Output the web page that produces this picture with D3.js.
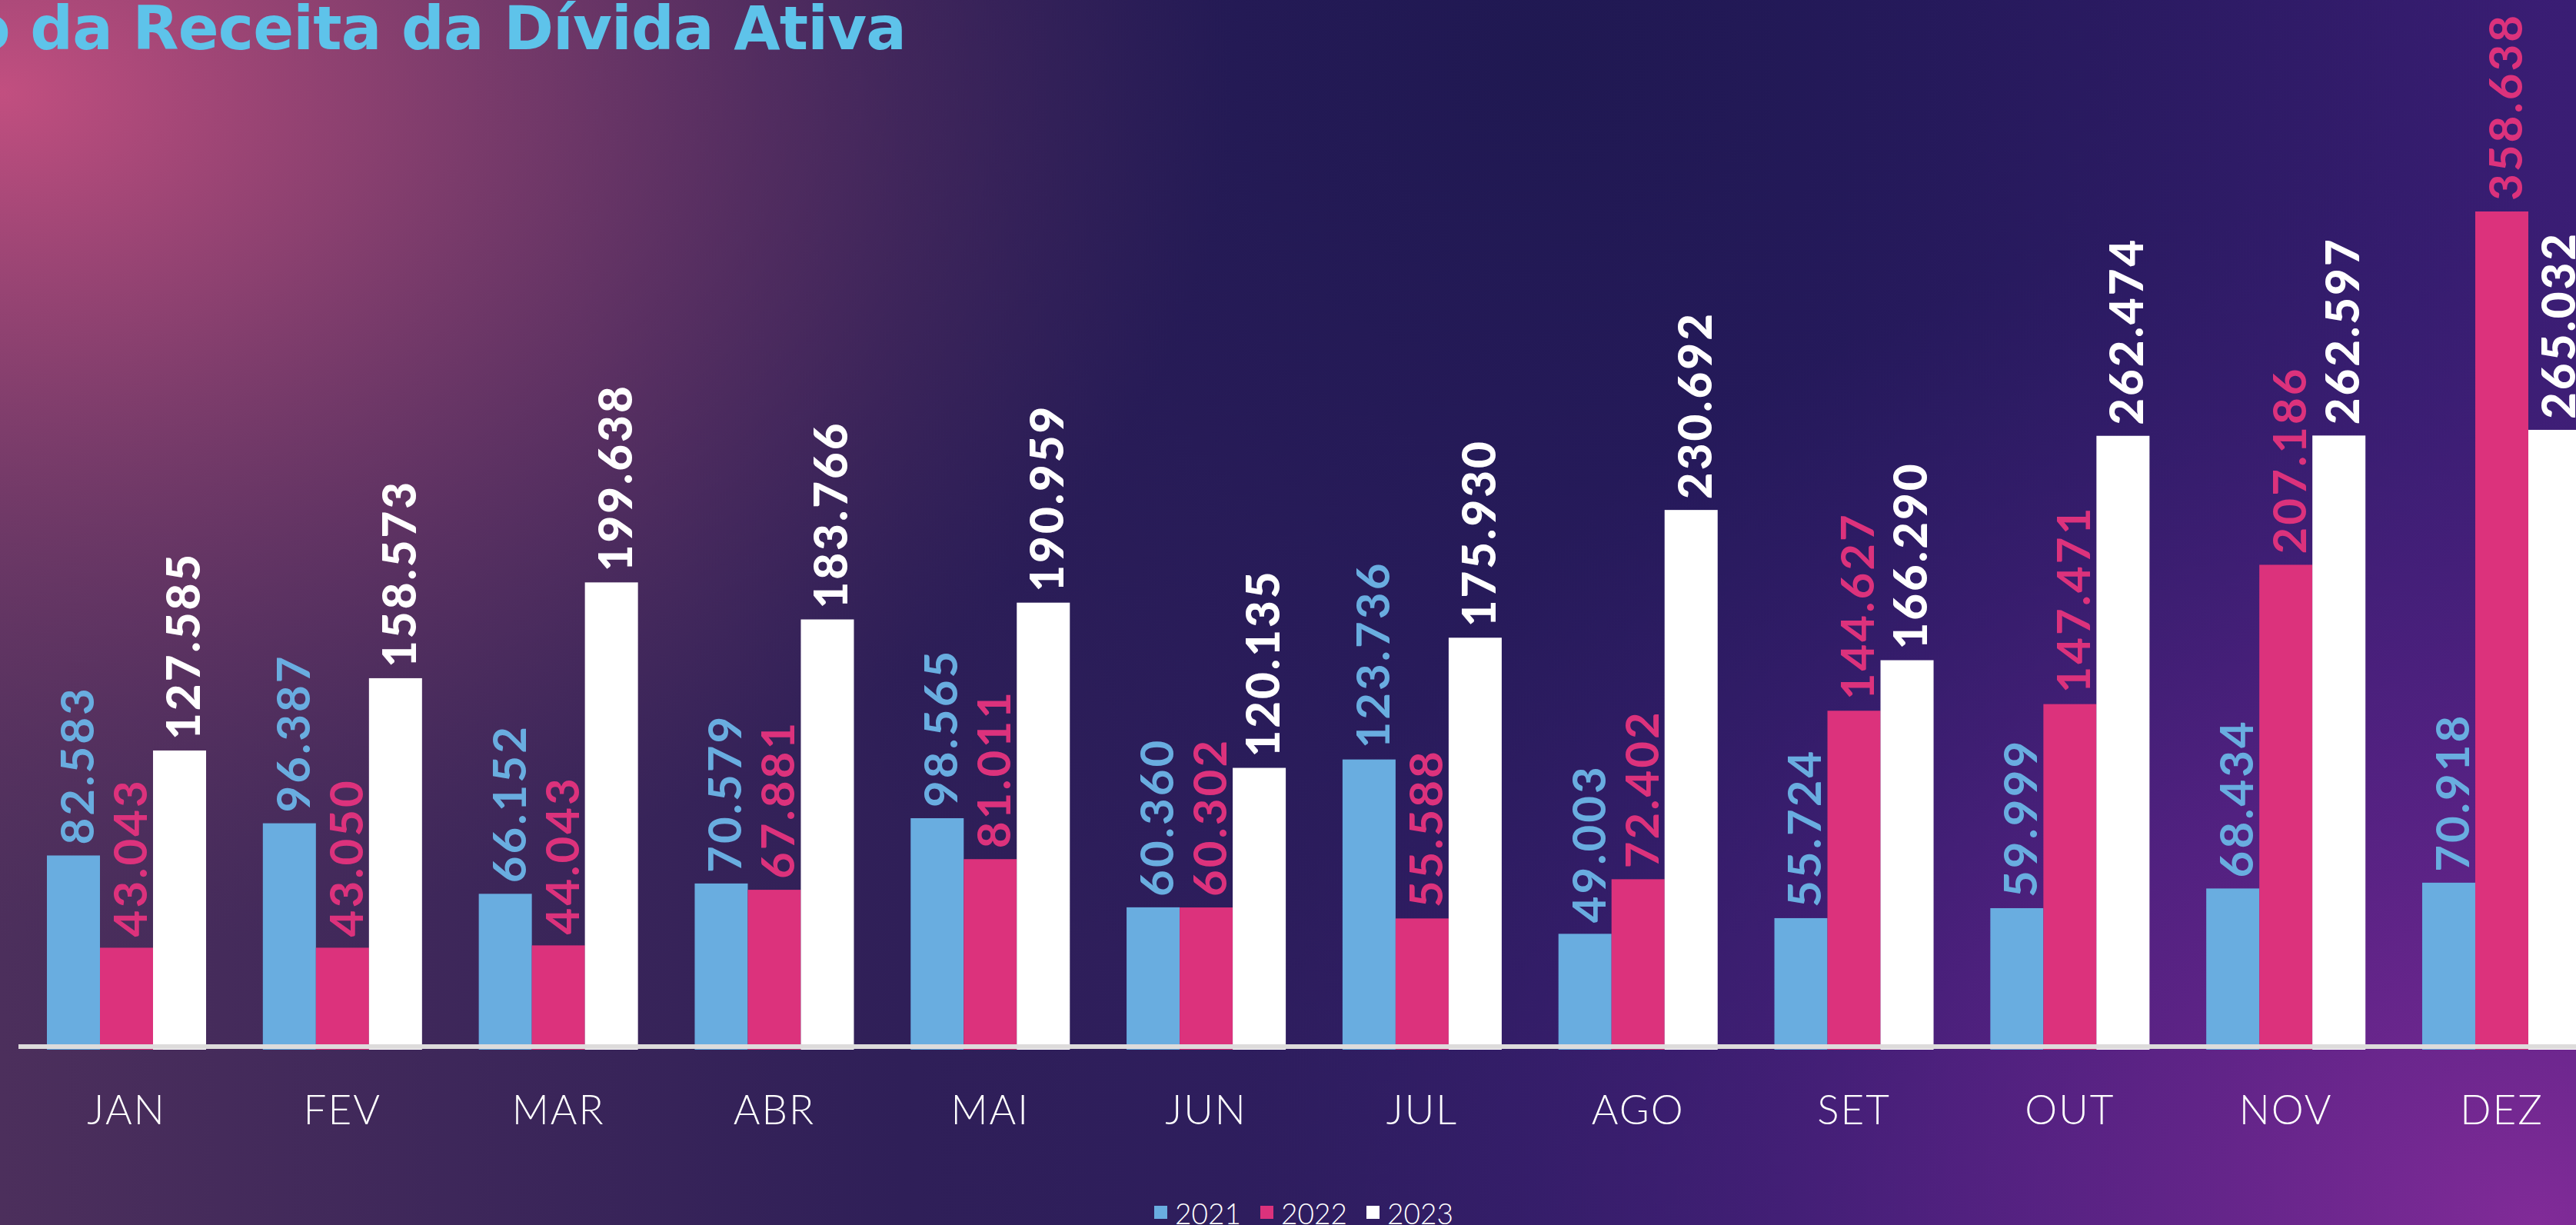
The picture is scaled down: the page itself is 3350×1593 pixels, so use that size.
<!DOCTYPE html>
<html>
<head>
<meta charset="utf-8">
<script src="https://cdn.jsdelivr.net/npm/d3@7"></script>
<style>
  html, body { margin: 0; padding: 0; background: #2c1d5e; overflow: hidden; }
  svg { display: block; }
</style>
</head>
<body>
<svg id="chart" width="3350" height="1593"></svg>
<script>
'use strict';

// data (values in R$ mil)
const months = ['JAN', 'FEV', 'MAR', 'ABR', 'MAI', 'JUN', 'JUL', 'AGO', 'SET', 'OUT', 'NOV', 'DEZ'];
const years = ['2021', '2022', '2023'];
const values2021 = [82583, 96387, 66152, 70579, 98565, 60360, 123736, 49003, 55724, 59999, 68434, 70918];
const values2022 = [43043, 43050, 44043, 67881, 81011, 60302, 55588, 72402, 144627, 147471, 207186, 358638];
const values2023 = [127585, 158573, 199638, 183766, 190959, 120135, 175930, 230692, 166290, 262474, 262597, 265032];
const yearColors = ['#69ade0', '#dc327c', '#ffffff'];
const titleText = 'o da Receita da Dívida Ativa';

const series = [values2021, values2022, values2023];

const W = 3350, H = 1593;
const svg = d3.select('#chart');

// background
const defs = svg.append('defs');
const base = defs.append('linearGradient').attr('id', 'bgBase')
    .attr('x1', 0).attr('y1', 0).attr('x2', 1).attr('y2', 0);
base.append('stop').attr('offset', '0%').attr('stop-color', '#4c2f5c');
base.append('stop').attr('offset', '35%').attr('stop-color', '#2f1f58');
base.append('stop').attr('offset', '70%').attr('stop-color', '#2c1b66');
base.append('stop').attr('offset', '100%').attr('stop-color', '#3a1d74');

const pink = defs.append('radialGradient').attr('id', 'bgPink')
    .attr('gradientUnits', 'userSpaceOnUse')
    .attr('cx', 0).attr('cy', 120).attr('r', 1600)
    .attr('gradientTransform', 'translate(0,120) scale(1,0.7) translate(0,-120)');
pink.append('stop').attr('offset', '0%').attr('stop-color', '#c24f80').attr('stop-opacity', 1);
pink.append('stop').attr('offset', '30%').attr('stop-color', '#974473').attr('stop-opacity', 0.85);
pink.append('stop').attr('offset', '100%').attr('stop-color', '#5a3360').attr('stop-opacity', 0);

const purple = defs.append('radialGradient').attr('id', 'bgPurple')
    .attr('gradientUnits', 'userSpaceOnUse')
    .attr('cx', 3300).attr('cy', 1593).attr('r', 1700)
    .attr('gradientTransform', 'translate(3300,1593) scale(1,0.8) translate(-3300,-1593)');
purple.append('stop').attr('offset', '0%').attr('stop-color', '#812b98').attr('stop-opacity', 1);
purple.append('stop').attr('offset', '45%').attr('stop-color', '#5e2388').attr('stop-opacity', 0.7);
purple.append('stop').attr('offset', '100%').attr('stop-color', '#3a1f74').attr('stop-opacity', 0);

const dark = defs.append('radialGradient').attr('id', 'bgDark')
    .attr('gradientUnits', 'userSpaceOnUse')
    .attr('cx', 2000).attr('cy', 80).attr('r', 1300);
dark.append('stop').attr('offset', '0%').attr('stop-color', '#1e1850').attr('stop-opacity', 0.9);
dark.append('stop').attr('offset', '100%').attr('stop-color', '#1e1850').attr('stop-opacity', 0);

svg.append('rect').attr('width', W).attr('height', H).attr('fill', 'url(#bgBase)');
svg.append('rect').attr('width', W).attr('height', H).attr('fill', 'url(#bgDark)');
svg.append('rect').attr('width', W).attr('height', H).attr('fill', 'url(#bgPink)');
svg.append('rect').attr('width', W).attr('height', H).attr('fill', 'url(#bgPurple)');

// title (cut at the left edge, as in the picture)
svg.append('text')
    .attr('x', -40)
    .attr('y', 64)
    .attr('textLength', 1219)
    .attr('lengthAdjust', 'spacing')
    .style('font-family', '"DejaVu Sans", sans-serif')
    .style('font-weight', 700)
    .style('font-size', '78px')
    .style('fill', '#5ec3ea')
    .text(titleText);

// scales
const x0 = d3.scaleBand()
    .domain(months)
    .range([61, 3357])
    .paddingInner(0.2628)
    .paddingOuter(0);

const x1 = d3.scaleBand()
    .domain(years)
    .range([0, x0.bandwidth()]);

const y = d3.scaleLinear()
    .domain([0, 358638])
    .range([1363, 275]);

const fmt = d3.formatLocale({decimal: ',', thousands: '.', grouping: [3], currency: ['R$ ', '']}).format(',d');

const rows = [];
months.forEach((m, i) => {
    years.forEach((yr, j) => {
        rows.push({month: m, year: yr, idx: j, value: series[j][i]});
    });
});

const groups = svg.append('g').attr('class', 'bars');

groups.selectAll('rect')
    .data(rows)
    .enter()
    .append('rect')
    .attr('x', d => x0(d.month) + x1(d.year))
    .attr('y', d => y(d.value))
    .attr('width', x1.bandwidth())
    .attr('height', d => y(0) + 2 - y(d.value))
    .attr('fill', d => yearColors[d.idx]);

// axis baseline
svg.append('rect')
    .attr('x', 24)
    .attr('y', y(0) - 5)
    .attr('width', W - 24)
    .attr('height', 6)
    .attr('fill', '#dddbdb');

// value labels, rotated
svg.append('g').attr('class', 'labels')
    .selectAll('text')
    .data(rows)
    .enter()
    .append('text')
    .attr('transform', d => {
        const cx = x0(d.month) + x1(d.year) + x1.bandwidth() / 2;
        return 'translate(' + cx + ',' + (y(d.value) - 14) + ') rotate(-90)';
    })
    .attr('dy', '0.44em')
    .style('font-family', 'Lato, sans-serif')
    .style('font-weight', d => d.idx === 2 ? 900 : 700)
    .style('font-size', '60px')
    .style('letter-spacing', '3px')
    .style('fill', d => yearColors[d.idx])
    .text(d => fmt(d.value));

// month labels
const xAxis = d3.axisBottom(x0).tickSize(0).tickPadding(0);
const axisG = svg.append('g')
    .attr('transform', 'translate(0,' + 1462 + ')')
    .call(xAxis);
axisG.select('.domain').remove();
axisG.selectAll('text')
    .attr('dy', 0)
    .attr('y', 0)
    .style('font-family', 'Lato, sans-serif')
    .style('font-weight', 300)
    .style('font-size', '53px')
    .style('letter-spacing', '2px')
    .style('fill', '#ffffff');

// legend
const legend = svg.append('g').attr('class', 'legend')
    .selectAll('g')
    .data(years)
    .enter()
    .append('g')
    .attr('transform', (d, i) => 'translate(' + (1501 + i * 138) + ',0)');

legend.append('rect')
    .attr('y', 1568)
    .attr('width', 17)
    .attr('height', 17)
    .attr('fill', (d, i) => yearColors[i]);

legend.append('text')
    .attr('x', 27)
    .attr('y', 1592)
    .style('font-family', 'Lato, sans-serif')
    .style('font-weight', 300)
    .style('font-size', '37px')
    .style('fill', '#ffffff')
    .text(d => d);
</script>
</body>
</html>
